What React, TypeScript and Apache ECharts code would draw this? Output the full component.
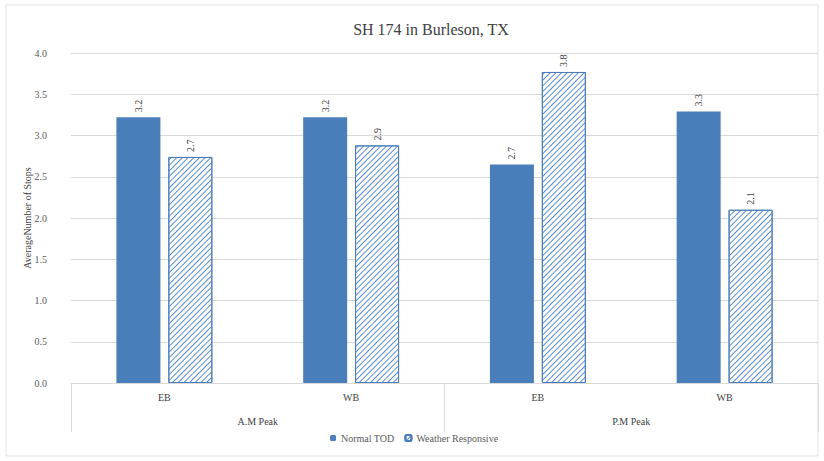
import React, { useEffect, useRef } from "react";
import * as echarts from "echarts";

const directions = ["EB", "WB", "EB", "WB"];
const periods = ["A.M Peak", "P.M Peak"];
const normalTOD = [3.22, 3.22, 2.65, 3.29];
const weatherResponsive = [2.74, 2.88, 3.77, 2.1];
const normalLabels = ["3.2", "3.2", "2.7", "3.3"];
const weatherLabels = ["2.7", "2.9", "3.8", "2.1"];

const FONT = "Liberation Serif, DejaVu Serif, serif";
const BLUE = "#4a7ebb";

export default function App() {
  const ref = useRef<HTMLDivElement>(null);
  useEffect(() => {
    if (!ref.current) return;
    const chart = echarts.init(ref.current, undefined, { renderer: "svg" });
    const labelCfg = (labels: string[]) => ({
      show: true,
      position: "top",
      rotate: 90,
      distance: 5,
      align: "left",
      verticalAlign: "middle",
      fontFamily: FONT,
      fontSize: 10,
      color: "#404040",
      formatter: (p: any) => labels[p.dataIndex],
    });
    chart.setOption({
      animation: false,
      backgroundColor: "#fff",
      textStyle: { fontFamily: FONT },
      graphic: [
        {
          type: "rect",
          shape: { x: 6, y: 5, width: 812, height: 451 },
          style: { fill: "none", stroke: "#e3e3e3", lineWidth: 1 },
          silent: true,
        },
      ],
      title: {
        text: "SH 174 in Burleson, TX",
        left: 426,
        top: 16,
        textAlign: "center",
        textStyle: { fontFamily: FONT, fontSize: 16, fontWeight: "normal", color: "#404040" },
      },
      legend: {
        bottom: 13,
        left: 325,
        itemWidth: 6,
        itemHeight: 6,
        itemGap: 10,
        textStyle: { fontFamily: FONT, fontSize: 10, color: "#595959" },
        data: ["Normal TOD", "Weather Responsive"],
      },
      grid: { left: 71, right: 6, top: 53, bottom: 78 },
      xAxis: [
        {
          type: "category",
          data: directions,
          axisLine: { show: true, lineStyle: { color: "#d9d9d9" } },
          axisTick: { show: false },
          axisLabel: { margin: 9, fontFamily: FONT, fontSize: 10, color: "#404040" },
        },
        {
          type: "category",
          data: periods,
          position: "bottom",
          offset: 0,
          axisLine: { show: false },
          axisTick: { show: true, length: 49, interval: 0, lineStyle: { color: "#d9d9d9" } },
          axisLabel: { margin: 33, fontFamily: FONT, fontSize: 10, color: "#404040" },
          splitLine: { show: false },
        },
      ],
      yAxis: {
        type: "value",
        min: 0,
        max: 4,
        interval: 0.5,
        name: "AverageNumber of Stops",
        nameLocation: "middle",
        nameGap: 39,
        nameMoveOverlap: false,
        nameTextStyle: { fontFamily: FONT, fontSize: 10, color: "#404040" },
        axisLine: { show: false },
        axisTick: { show: false },
        axisLabel: {
          margin: 24,
          align: "right",
          fontFamily: FONT,
          fontSize: 10,
          color: "#595959",
          formatter: (v: number) => v.toFixed(1),
        },
        splitLine: { lineStyle: { color: "#d9d9d9" } },
      },
      series: [
        {
          name: "Normal TOD",
          type: "bar",
          xAxisIndex: 0,
          data: normalTOD,
          barWidth: 44,
          barGap: "18%",
          itemStyle: { color: BLUE },
          label: labelCfg(normalLabels),
        },
        {
          name: "Weather Responsive",
          type: "bar",
          xAxisIndex: 0,
          data: weatherResponsive,
          barWidth: 44,
          itemStyle: {
            color: "#ffffff",
            borderColor: BLUE,
            borderWidth: 1,
            decal: {
              symbol: "rect",
              symbolSize: 1,
              color: "#5a8ccc",
              dashArrayX: [1, 0],
              dashArrayY: [1, 2.2],
              rotation: -Math.PI / 4,
            },
          },
          label: labelCfg(weatherLabels),
        },
      ],
    });
    return () => chart.dispose();
  }, []);
  return <div ref={ref} style={{ width: 824, height: 461, position: "absolute", left: 0, top: 0 }} />;
}
